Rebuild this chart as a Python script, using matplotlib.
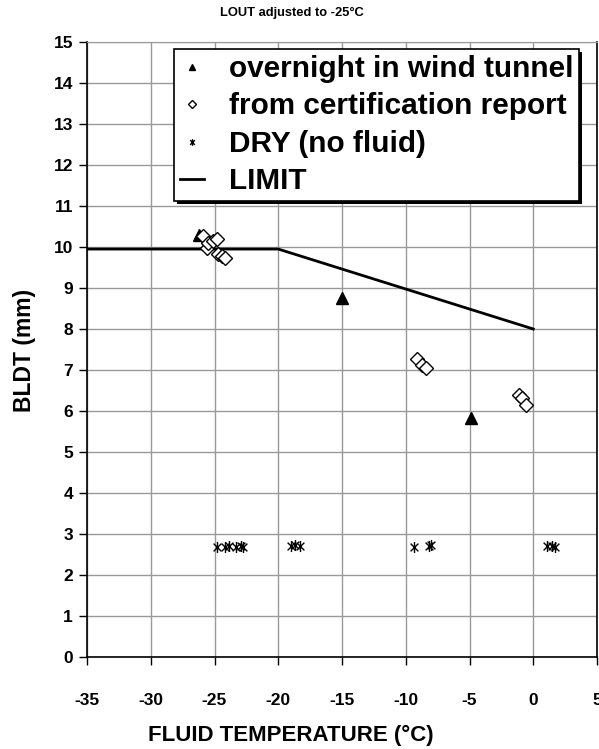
import matplotlib.pyplot as plt
from matplotlib.patches import Rectangle
from matplotlib.path import Path

plt.rcParams['font.family'] = ['Liberation Sans', 'DejaVu Sans']
plt.rcParams['font.weight'] = 'bold'
plt.rcParams['axes.unicode_minus'] = False

# overnight in wind tunnel
tunnel_x = [-26.2, -15.0, -4.9]
tunnel_y = [10.3, 8.75, 5.82]

# from certification report
cert_x = [-25.9, -25.6, -25.5, -25.1, -24.8, -24.7, -24.45, -24.2,
          -9.1, -8.7, -8.4, -1.15, -0.9, -0.55]
cert_y = [10.28, 9.98, 10.1, 10.14, 10.2, 9.82, 9.78, 9.72,
          7.28, 7.12, 7.06, 6.4, 6.32, 6.14]

# DRY (no fluid)
dry_x = [-24.8, -24.2, -23.9, -23.3, -22.9, -22.8, -19.0, -18.7, -18.3,
         -9.35, -8.2, -8.05, 1.05, 1.45, 1.7]
dry_y = [2.68, 2.69, 2.7, 2.68, 2.7, 2.68, 2.7, 2.72, 2.7,
         2.68, 2.7, 2.72, 2.7, 2.7, 2.68]

# LIMIT
limit_x = [-35, -20, 0]
limit_y = [9.95, 9.95, 8.0]

x_ticks = list(range(-35, 6, 5))
y_ticks = list(range(0, 16))

# excel style asterisk: an X with a vertical bar
star = Path([(-0.7, -0.7), (0.7, 0.7), (-0.7, 0.7), (0.7, -0.7), (0, -1), (0, 1)],
            [Path.MOVETO, Path.LINETO, Path.MOVETO, Path.LINETO, Path.MOVETO, Path.LINETO])

fig = plt.figure(figsize=(5.99, 7.49), dpi=100)
ax = fig.add_axes([87 / 599, 92 / 749, 510 / 599, 615 / 749])

ax.plot(tunnel_x, tunnel_y, linestyle='none', marker='^', color='black',
        markersize=8, label='overnight in wind tunnel', zorder=4)
ax.plot(cert_x, cert_y, linestyle='none', marker='D', markerfacecolor='white',
        markeredgecolor='black', markersize=7, markeredgewidth=1,
        label='from certification report', zorder=4)
ax.plot(dry_x, dry_y, linestyle='none', marker=star, color='black',
        markersize=8, markeredgewidth=1, label='DRY (no fluid)', zorder=4)
ax.plot(limit_x, limit_y, color='black', linewidth=2, label='LIMIT', zorder=3)

ax.set_xlim(-35, 5)
ax.set_ylim(0, 15)
ax.set_xticks(x_ticks)
ax.set_yticks(y_ticks)
ax.grid(True, color='#999999', linewidth=1)
ax.set_axisbelow(True)
ax.tick_params(direction='out', length=6, width=1, labelsize=12.5)
ax.tick_params(axis='x', pad=20)
ax.tick_params(axis='y', pad=4)

ax.spines['top'].set_color('#999999')
for s in ['left', 'bottom', 'right']:
    ax.spines[s].set_color('black')
    ax.spines[s].set_linewidth(1.2)

# axis titles sit centred on the chart area, not the plot area
fig.text(291 / 599, 1 - 735 / 749, 'FLUID TEMPERATURE (°C)', ha='center', va='center',
         fontsize=16, fontweight='bold')
fig.text(24 / 599, 1 - 350 / 749, 'BLDT (mm)', ha='center', va='center',
         rotation=90, fontsize=16.5, fontweight='bold')
fig.text(292 / 599, 1 - 13 / 749, 'LOUT adjusted to -25°C', ha='center', va='center',
         fontsize=9.3, fontweight='bold')

leg = ax.legend(loc='upper left', bbox_to_anchor=((174 - 87) / 510, (657 - 49) / 615),
                frameon=True, fancybox=False, shadow=False,
                prop={'weight': 'bold', 'size': 21.4}, handlelength=0.8,
                handletextpad=0.85, markerscale=0.6, borderpad=0.2,
                labelspacing=0.32, borderaxespad=0, framealpha=1)
leg.get_frame().set_edgecolor('black')
leg.get_frame().set_facecolor('white')
leg.get_frame().set_linewidth(1.2)
leg.set_zorder(6)

fig.canvas.draw()
bb = leg.get_window_extent().transformed(ax.transAxes.inverted())
shadow = Rectangle((bb.x0 + 3 / 510, bb.y0 - 3 / 615), bb.width, bb.height,
                   transform=ax.transAxes, facecolor='black', edgecolor='none', zorder=5)
ax.add_patch(shadow)

fig.savefig('out.png', dpi=100)
plt.close(fig)
